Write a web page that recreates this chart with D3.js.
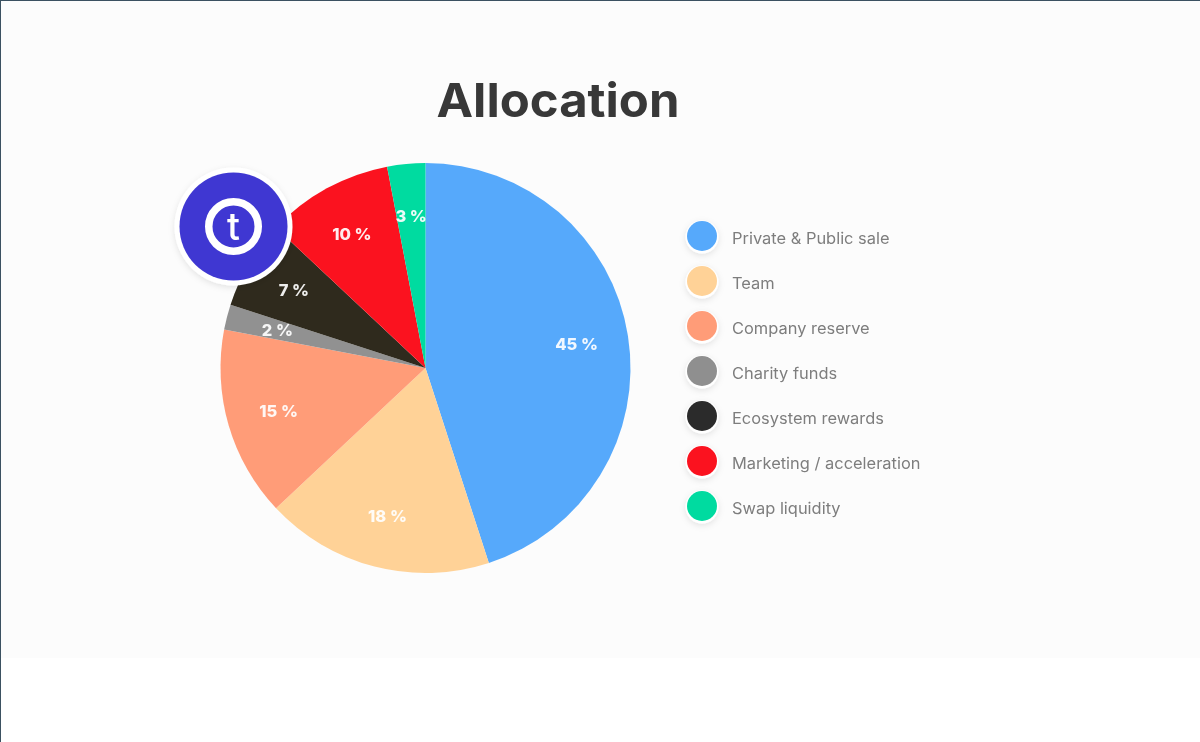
<!DOCTYPE html>
<html>
<head>
<meta charset="utf-8">
<script src="https://cdn.jsdelivr.net/npm/d3@7.9.0/dist/d3.min.js"></script>
<style>
  html, body { margin: 0; padding: 0; background: #fff; overflow: hidden; }
  text { font-family: Inter, "Open Sans", sans-serif; }
</style>
</head>
<body>
<svg id="chart" width="1200" height="742"></svg>
<script>
const categories = ['Private & Public sale', 'Team', 'Company reserve', 'Charity funds', 'Ecosystem rewards', 'Marketing / acceleration', 'Swap liquidity'];
const shares = [45, 18, 15, 2, 7, 10, 3];
const sliceColors = ['#56a9fb', '#ffd297', '#ff9c78', '#919191', '#2f2a1d', '#fb121f', '#00dba0'];
const legendColors = ['#56a9fb', '#ffd297', '#ff9c78', '#8f8f8f', '#2b2b2b', '#fb121f', '#00dba0'];
const titleText = 'Allocation';

const root = d3.select('#chart');

// ====== Page background ======
root.append('rect').attr('width', 1200).attr('height', 658).attr('fill', '#fcfcfc');
root.append('rect').attr('width', 1200).attr('height', 1).attr('fill', '#3b5161');
root.append('rect').attr('width', 1).attr('height', 742).attr('fill', '#3b5161');

const defs = root.append('defs');
const shadow = defs.append('filter').attr('id', 'soft')
  .attr('x', '-30%').attr('y', '-30%').attr('width', '160%').attr('height', '160%');
shadow.append('feDropShadow').attr('dx', 0).attr('dy', 2).attr('stdDeviation', 3)
  .attr('flood-color', '#000').attr('flood-opacity', 0.1);

// the reference is a slightly soft screenshot
const svg = root.append('g').style('filter', 'blur(0.45px)');

// ====== Title ======
svg.append('text')
  .attr('x', 558).attr('y', 117)
  .attr('text-anchor', 'middle')
  .attr('font-size', 47).attr('font-weight', 700)
  .attr('textLength', 243).attr('lengthAdjust', 'spacingAndGlyphs')
  .attr('fill', '#383838')
  .text(titleText);

// ====== Pie ======
const pieX = 425.5, pieY = 368, radius = 205;
const pieData = d3.pie().sort(null).value((d) => d)(shares);
const arc = d3.arc().innerRadius(0).outerRadius(radius);
const labelArc = d3.arc().innerRadius(153).outerRadius(153);

const pie = svg.append('g').attr('transform', `translate(${pieX},${pieY})`);
pie.selectAll('path')
  .data(pieData)
  .join('path')
  .attr('d', arc)
  .attr('fill', (d, i) => sliceColors[i]);

pie.selectAll('text')
  .data(pieData)
  .join('text')
  .attr('x', (d) => labelArc.centroid(d)[0])
  .attr('y', (d) => labelArc.centroid(d)[1])
  .attr('text-anchor', 'middle')
  .attr('dominant-baseline', 'central')
  .attr('font-size', 16.5).attr('font-weight', 800)
  .attr('fill', '#fff')
  .attr('fill-opacity', 0.92)
  .text((d) => `${d.data} %`);

// ====== Logo badge ======
const logo = svg.append('g').attr('transform', 'translate(233.5,226.5)');
logo.append('circle').attr('r', 59).attr('fill', '#fff').attr('filter', 'url(#soft)');
logo.append('circle').attr('r', 54).attr('fill', '#3f37d2');
logo.append('circle').attr('r', 24.75).attr('fill', 'none').attr('stroke', '#fff').attr('stroke-width', 7.5);
logo.append('text')
  .attr('y', 13).attr('text-anchor', 'middle')
  .attr('font-size', 38).attr('font-weight', 500)
  .attr('fill', '#fff')
  .text('t');

// ====== Legend ======
const legendY = d3.scalePoint().domain(categories).range([238, 508]);
const legend = svg.append('g').selectAll('g')
  .data(categories)
  .join('g')
  .attr('transform', (d) => `translate(702,${legendY(d)})`);

legend.append('circle').attr('cy', -1).attr('r', 16.5).attr('fill', '#fff').attr('filter', 'url(#soft)');
legend.append('circle').attr('cy', -2).attr('r', 15).attr('fill', (d, i) => legendColors[i]);
legend.append('text')
  .attr('transform', 'translate(30,6) scale(1.06,1)')
  .attr('font-size', 15.5)
  .attr('fill', '#7d7d7d')
  .text((d) => d);
</script>
</body>
</html>
